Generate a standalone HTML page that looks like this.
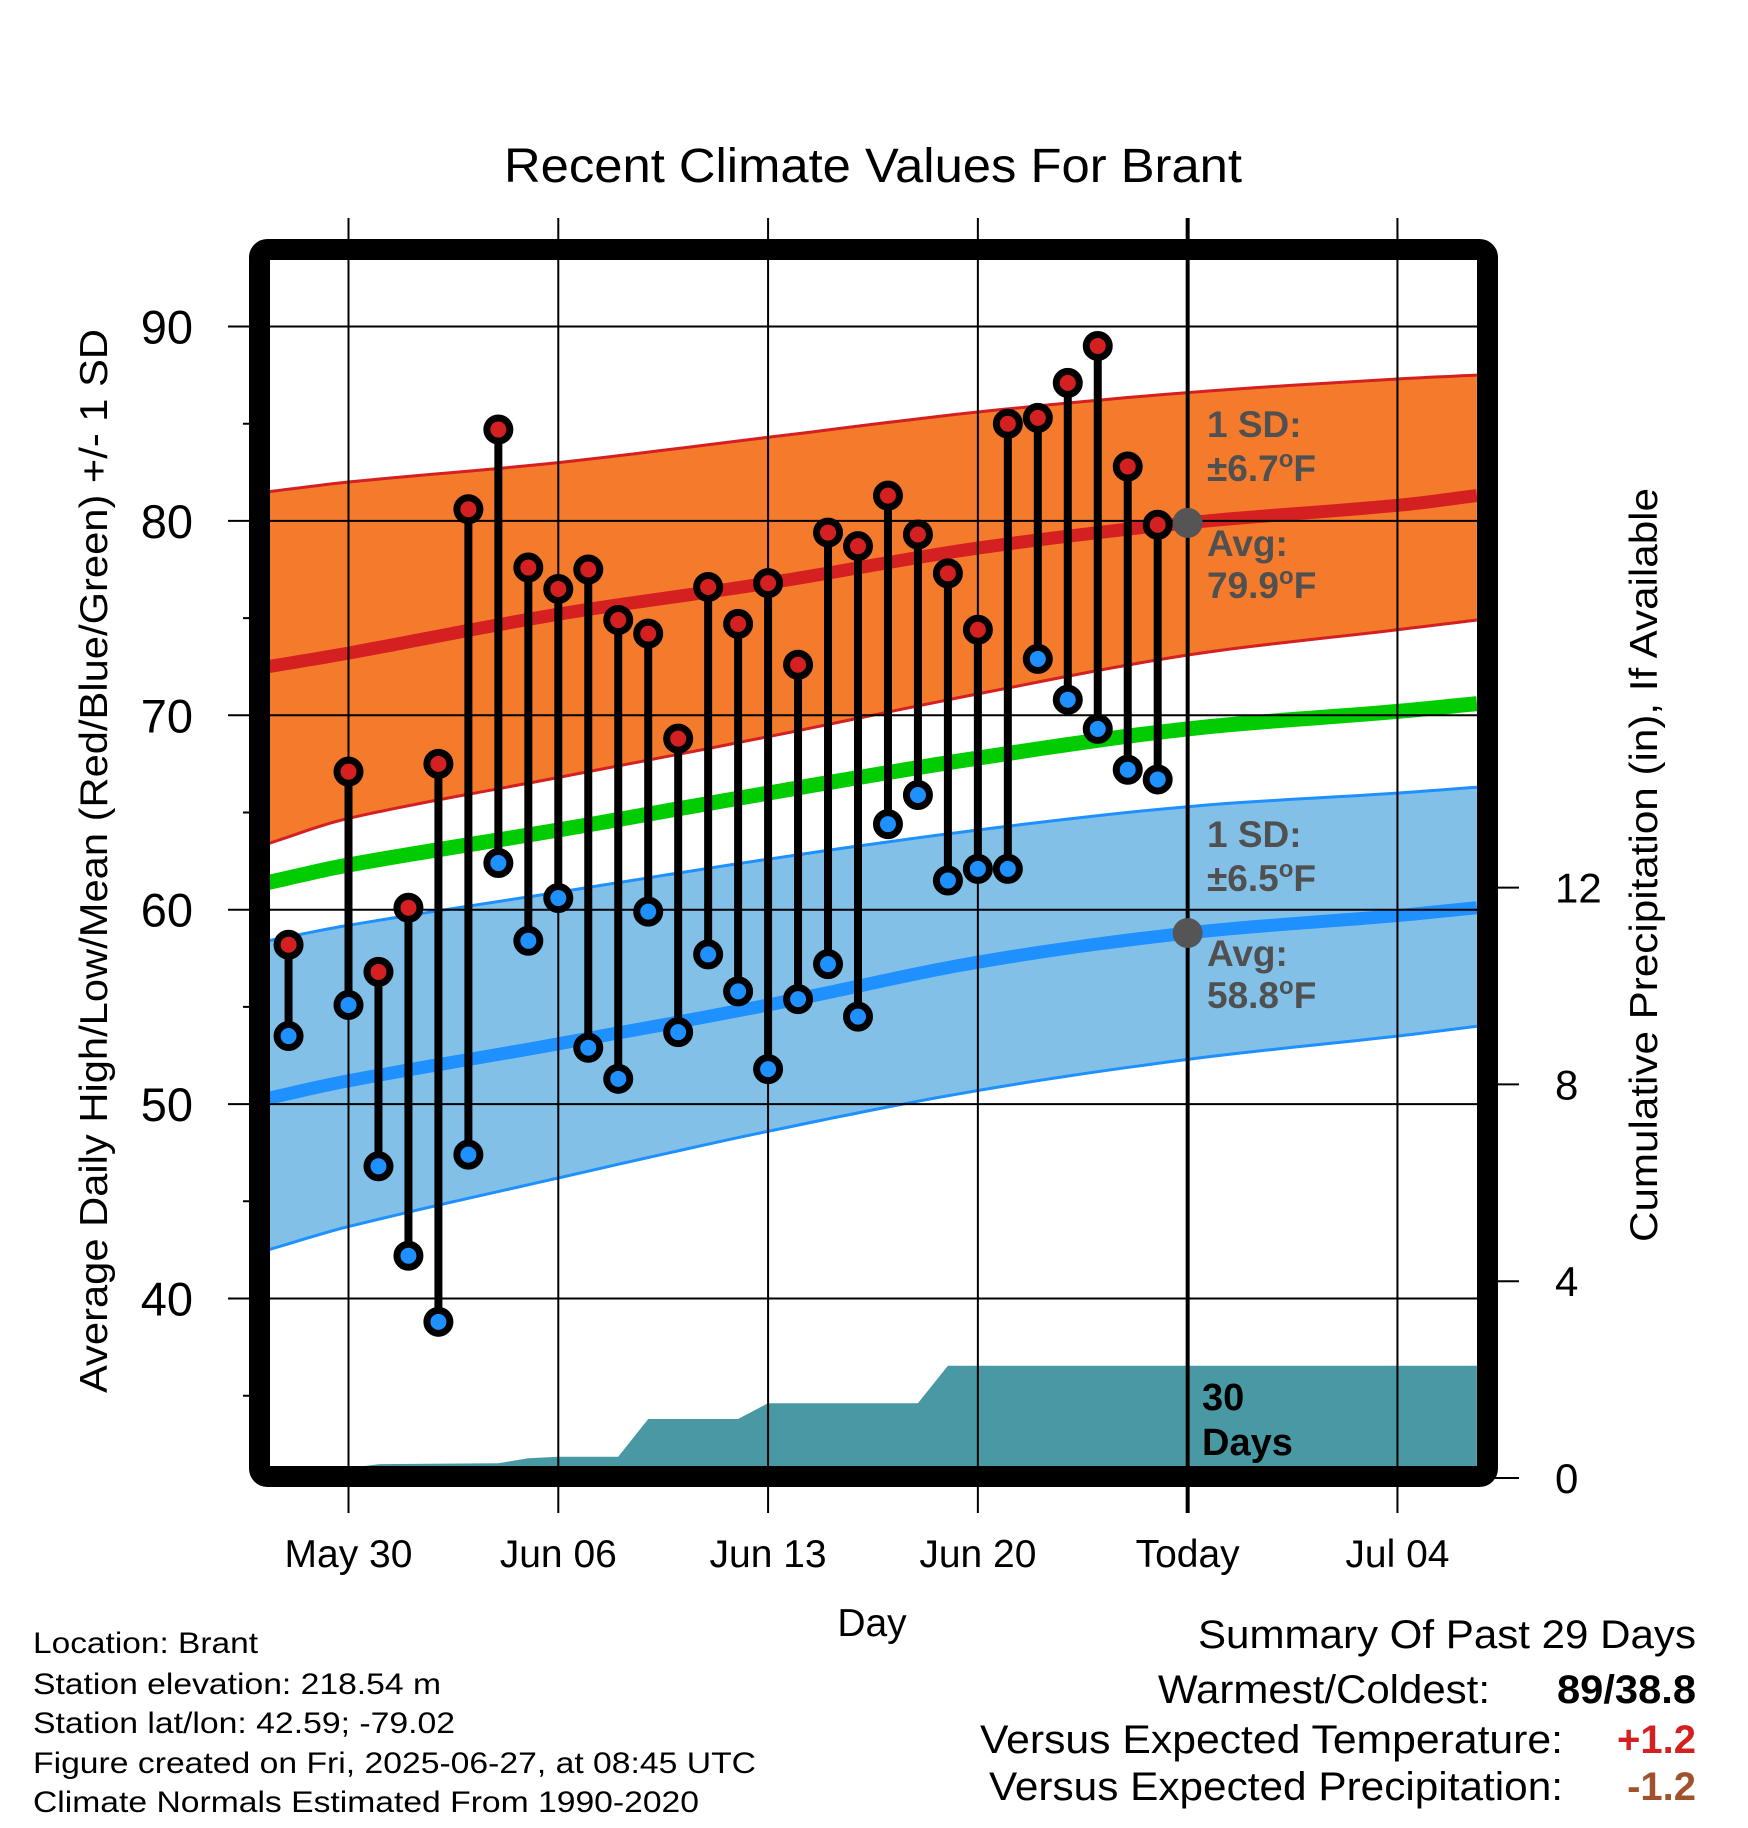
<!DOCTYPE html>
<html><head><meta charset="utf-8"><title>Recent Climate Values For Brant</title>
<style>
html,body{margin:0;padding:0;background:#fff;}
svg{display:block;}
text{font-family:"Liberation Sans",Arial,sans-serif;}
</style></head>
<body>
<svg id="chart" xmlns="http://www.w3.org/2000/svg" width="1748" height="1828" viewBox="0 0 1748 1828">
<rect x="0" y="0" width="1748" height="1828" fill="#fff"/>
<text x="873" y="182" font-size="48" text-anchor="middle" textLength="738" lengthAdjust="spacingAndGlyphs">Recent Climate Values For Brant</text>
<g id="plot"></g>
<text transform="translate(107,861) rotate(-90)" font-size="39" text-anchor="middle" textLength="1064" lengthAdjust="spacingAndGlyphs">Average Daily High/Low/Mean (Red/Blue/Green) +/- 1 SD</text>
<text transform="translate(1657,865) rotate(-90)" font-size="39" text-anchor="middle" textLength="754" lengthAdjust="spacingAndGlyphs">Cumulative Precipitation (in), If Available</text>
<text x="872" y="1636" font-size="39" text-anchor="middle">Day</text>
<g font-size="30">
<text x="33" y="1653" textLength="225" lengthAdjust="spacingAndGlyphs">Location: Brant</text>
<text x="33" y="1694" textLength="408" lengthAdjust="spacingAndGlyphs">Station elevation: 218.54 m</text>
<text x="33" y="1733" textLength="422" lengthAdjust="spacingAndGlyphs">Station lat/lon: 42.59; -79.02</text>
<text x="33" y="1773" textLength="723" lengthAdjust="spacingAndGlyphs">Figure created on Fri, 2025-06-27, at 08:45 UTC</text>
<text x="33" y="1812" textLength="666" lengthAdjust="spacingAndGlyphs">Climate Normals Estimated From 1990-2020</text>
</g>
<g font-size="40">
<text x="1696" y="1648" text-anchor="end" textLength="498" lengthAdjust="spacingAndGlyphs">Summary Of Past 29 Days</text>
<text x="1490" y="1703" text-anchor="end" textLength="332" lengthAdjust="spacingAndGlyphs">Warmest/Coldest:</text>
<text x="1696" y="1703" text-anchor="end" font-weight="bold" textLength="139" lengthAdjust="spacingAndGlyphs">89/38.8</text>
<text x="1563" y="1753" text-anchor="end" textLength="583" lengthAdjust="spacingAndGlyphs">Versus Expected Temperature:</text>
<text x="1696" y="1753" text-anchor="end" font-weight="bold" fill="#d42020">+1.2</text>
<text x="1563" y="1800" text-anchor="end" textLength="574" lengthAdjust="spacingAndGlyphs">Versus Expected Precipitation:</text>
<text x="1696" y="1800" text-anchor="end" font-weight="bold" fill="#a0522d">-1.2</text>
</g>
</svg>
<script>
// ---- data ----
const obsDays = [-2,0,1,2,3,4,5,6,7,8,9,10,11,12,13,14,15,16,17,18,19,20,21,22,23,24,25,26,27];
const highs = [58.2,67.1,56.8,60.1,67.5,80.6,84.7,77.6,76.5,77.5,74.9,74.2,68.8,76.6,74.7,76.8,72.6,79.4,78.7,81.3,79.3,77.3,74.4,85.0,85.3,87.1,89.0,82.8,79.8];
const lows = [53.5,55.1,46.8,42.2,38.8,47.4,62.4,58.4,60.6,52.9,51.3,59.9,53.7,57.7,55.8,51.8,55.4,57.2,54.5,64.4,65.9,61.5,62.1,62.1,72.9,70.8,69.3,67.2,66.7];
const normDays = [-2.68,0,7,14,21,28,35,37.65];
const normHigh = [72.5,73.2,75.2,76.8,78.6,79.9,80.8,81.3];
const normHighUpper = [81.5,82.0,83.0,84.3,85.6,86.6,87.3,87.5];
const normHighLower = [63.4,64.7,66.8,68.9,71.1,73.1,74.4,74.9];
const normMean = [61.4,62.3,64.1,66.0,67.8,69.3,70.2,70.6];
const normLow = [50.3,51.2,53.1,55.1,57.3,58.8,59.7,60.1];
const normLowUpper = [58.4,59.2,60.9,62.6,64.1,65.3,66.0,66.3];
const normLowLower = [42.5,43.7,46.2,48.6,50.7,52.3,53.5,54.0];
const precipDays = [-1,1,5,6,7,9,10,13,14,19,20,28,37.65];
const precipCum = [0.12,0.28,0.3,0.4,0.43,0.43,1.2,1.2,1.52,1.52,2.28,2.28,2.28];
const yTicks = [40,50,60,70,80,90];
const yMinorTicks = [35,45,55,65,75,85];
const y2Ticks = [0,4,8,12];
const xTickDays = [0,7,14,21,28,35];
const xTickLabels = ["May 30","Jun 06","Jun 13","Jun 20","Today","Jul 04"];
const todayDay = 28;
const avgHighToday = 79.9, avgLowToday = 58.8;

// ---- scales ----
const X0 = 348.5, DX = 29.97;
const xs = d => X0 + d*DX;
const ys = v => 326.5 + (90 - v)*19.44;
const y2s = p => 1478 - p*49.2;
const L = 270, R = 1478, T = 260, B = 1468;
const NS = "http://www.w3.org/2000/svg";
const plot = document.getElementById('plot');
function mk(tag, attrs, parent){
  const e = document.createElementNS(NS, tag);
  for (const k in attrs) e.setAttribute(k, attrs[k]);
  (parent||plot).appendChild(e);
  return e;
}
const defs = mk('defs',{});
const cp = mk('clipPath',{id:'clip'},defs);
mk('rect',{x:L,y:T,width:R-L,height:B-T},cp);
const g = mk('g',{'clip-path':'url(#clip)'});



// smooth sampling through normal points (monotone-ish cubic via Catmull-Rom)
function sample(arr){
  const out=[];
  const n=normDays.length;
  for(let i=0;i<n-1;i++){
    const p0=i>0?i-1:i, p3=i+2<n?i+2:i+1;
    const x1=normDays[i],x2=normDays[i+1];
    const y0=arr[p0],y1=arr[i],y2=arr[i+1],y3=arr[p3];
    const m1=(y2-y0)/(normDays[i+1]-normDays[p0]);
    const m2=(y3-y1)/(normDays[p3]-normDays[i]);
    const h=x2-x1;
    for(let k=0;k<10;k++){
      const t=k/10,t2=t*t,t3=t2*t;
      const v=(2*t3-3*t2+1)*y1+(t3-2*t2+t)*h*m1+(-2*t3+3*t2)*y2+(t3-t2)*h*m2;
      out.push([x1+t*h,v]);
    }
  }
  out.push([normDays[n-1],arr[n-1]]);
  return out;
}
function linePts(arr){ return sample(arr).map(p=>xs(p[0]).toFixed(1)+','+ys(p[1]).toFixed(1)).join(' '); }
function bandPts(up, lo){
  const a = sample(up).map(p=>xs(p[0]).toFixed(1)+','+ys(p[1]).toFixed(1));
  const b = sample(lo).map(p=>xs(p[0]).toFixed(1)+','+ys(p[1]).toFixed(1)).reverse();
  return a.concat(b).join(' ');
}
// precipitation area
let pp = precipDays.map((d,i)=>xs(d).toFixed(1)+','+y2s(precipCum[i]).toFixed(1));
pp.push(xs(precipDays[precipDays.length-1]).toFixed(1)+','+(B+20));
pp.push(xs(precipDays[0]).toFixed(1)+','+(B+20));
const pa = mk('polygon',{points:pp.join(' '),fill:'#4899a3'},g);



// bands
const hb = mk('polygon',{points:bandPts(normHighUpper,normHighLower),fill:'#f47a2c'},g);


const lb = mk('polygon',{points:bandPts(normLowUpper,normLowLower),fill:'#82c0e8'},g);


[[normHighUpper,'#d42020',3,'high-sd-upper'],[normHighLower,'#d42020',3,'high-sd-lower'],
 [normLowUpper,'#1e90ff',3,'low-sd-upper'],[normLowLower,'#1e90ff',3,'low-sd-lower'],
 [normHigh,'#d42020',13,'avg-high-line'],[normMean,'#00cc00',15,'avg-mean-line'],[normLow,'#1e90ff',13,'avg-low-line']].forEach(s=>{
  const l = mk('polyline',{points:linePts(s[0]),fill:'none',stroke:s[1],'stroke-width':s[2]},g);
  
  
});

// grid
const grid = mk('g',{stroke:'#000','stroke-width':2});


yTicks.forEach(v=>{
  const l = mk('line',{x1:228,x2:R,y1:ys(v),y2:ys(v)},grid);
  
  
  const t = mk('text',{x:193,y:ys(v)+17,'font-size':47,'text-anchor':'end',stroke:'none'});
  t.textContent = v;
  
  
});
yMinorTicks.forEach(v=>{
  const l = mk('line',{x1:243,x2:L,y1:ys(v),y2:ys(v)},grid);
  
  
});
xTickDays.forEach((d,i)=>{
  const l = mk('line',{x1:xs(d),x2:xs(d),y1:218,y2:1513},grid);
  
  
  const t = mk('text',{x:xs(d),y:1567,'font-size':39,'text-anchor':'middle'});
  t.textContent = xTickLabels[i];
  
  
});
y2Ticks.forEach(p=>{
  const l = mk('line',{x1:1495,x2:1519,y1:y2s(p),y2:y2s(p),stroke:'#000','stroke-width':2});
  
  
  const t = mk('text',{x:1555,y:y2s(p)+15,'font-size':42});
  t.textContent = p;
  
  
});
// today line
const tl = mk('line',{x1:xs(todayDay),x2:xs(todayDay),y1:218,y2:1513,stroke:'#000','stroke-width':4});



// avg markers & annotations
const d1 = mk('circle',{cx:xs(todayDay),cy:ys(avgHighToday),r:15,fill:'#555'});


const d2 = mk('circle',{cx:xs(todayDay),cy:ys(avgLowToday),r:15,fill:'#555'});


const ann = [[1207,437,'1 SD:',''],[1207,481,'±6.7','F'],[1207,556,'Avg:',''],[1207,598,'79.9','F'],
             [1207,847,'1 SD:',''],[1207,891,'±6.5','F'],[1207,966,'Avg:',''],[1207,1008,'58.8','F']];
ann.forEach((a,i)=>{
  const t = mk('text',{x:a[0],y:a[1],'font-size':37,'font-weight':'bold',fill:'#505050'});
  
  
  t.appendChild(document.createTextNode(a[2]));
  if(a[3]){
    const s1 = mk('tspan',{dy:-14,'font-size':24},t);
    s1.textContent='o';
    const s2 = mk('tspan',{dy:14,'font-size':37},t);
    s2.textContent=a[3];
  }
});
const t30 = mk('text',{x:1202,y:1410,'font-size':38,'font-weight':'bold'});
t30.textContent='30';


const tdy = mk('text',{x:1202,y:1455,'font-size':38,'font-weight':'bold'});
tdy.textContent='Days';



// observations
obsDays.forEach((d,i)=>{
  const x = xs(d);
  const s = mk('line',{x1:x,x2:x,y1:ys(highs[i]),y2:ys(lows[i]),stroke:'#000','stroke-width':8});
  
  
});
obsDays.forEach((d,i)=>{
  const x = xs(d);
  const h = mk('circle',{cx:x,cy:ys(highs[i]),r:11.5,fill:'#d42020',stroke:'#000','stroke-width':7});
  
  
  const l = mk('circle',{cx:x,cy:ys(lows[i]),r:11.5,fill:'#1e90ff',stroke:'#000','stroke-width':7});
  
  
});

// frame
const fr = mk('rect',{x:259.5,y:249.5,width:1228,height:1227,rx:8,fill:'none',stroke:'#000','stroke-width':21});


</script>
</body></html>
